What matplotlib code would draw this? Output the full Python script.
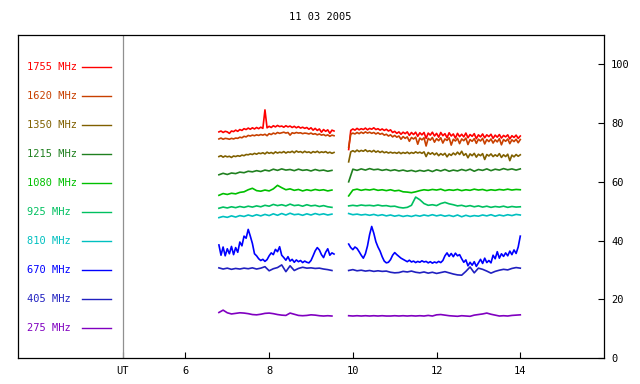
import matplotlib
matplotlib.use('Agg')
import matplotlib.pyplot as plt
import numpy as np

# radio flux records, 11 03 2005
# two observing runs, sampled every 0.05 h (noisy channels) or 0.1 h
run1_start = 6.80
run2_start = 9.90

labels = ['1755 MHz', '1620 MHz', '1350 MHz', '1215 MHz', '1080 MHz',
          '925 MHz', '810 MHz', '670 MHz', '405 MHz', '275 MHz']
colors = ['#ff0000', '#c84000', '#806000', '#208020', '#00c000',
          '#00c060', '#00c0c0', '#0000ff', '#2020c0', '#8000c0']

# ---- fine step (0.05 h) ----
f1755_a = [77.0, 77.3, 76.8, 77.2, 77.0, 76.5, 77.3, 77.1, 77.6, 77.2,
           77.8, 77.5, 78.1, 77.8, 78.3, 77.9, 78.4, 78.0, 78.5, 78.1,
           78.6, 78.2, 84.5, 78.4, 78.9, 78.5, 79.1, 78.7, 79.2, 78.8,
           79.0, 78.6, 79.1, 78.7, 79.0, 78.5, 78.9, 78.4, 78.8, 78.3,
           78.6, 78.2, 78.5, 77.9, 78.4, 77.6, 78.2, 77.5, 78.0, 76.9,
           77.8, 77.2, 77.7, 76.5, 77.6, 77.3]
f1755_b = [71.0, 77.5,
           78.0, 77.6, 78.2, 77.7, 78.1, 77.8, 78.3, 77.7, 78.2, 77.9,
           78.4, 77.8, 78.1, 77.6, 78.0, 77.5, 77.9, 77.3, 77.7, 76.8,
           77.2, 76.5, 77.0, 76.2, 76.9, 76.4, 77.0, 75.8, 76.8, 76.1,
           76.9, 75.5, 76.7, 76.0, 76.8, 74.8, 76.6, 75.9, 76.9, 75.6,
           76.5, 75.2, 76.8, 75.7, 76.4, 75.0, 76.7, 75.6, 76.3, 74.9,
           76.5, 75.4, 76.2, 75.3, 76.6, 75.0, 76.1, 75.5, 76.4, 74.7,
           76.0, 75.3, 76.3, 75.0, 76.0, 75.4, 76.2, 74.8, 75.9, 75.2,
           76.1, 74.9, 75.8, 75.3, 76.0, 74.6, 75.7, 75.1, 75.9, 74.8,
           75.6]

f1620_a = [74.6, 74.9, 74.5, 74.8, 74.7, 74.5, 74.8, 74.6, 74.9, 74.8,
           75.2, 75.0, 75.5, 75.3, 75.8, 75.6, 75.9, 75.7, 76.0, 75.8,
           76.1, 75.9, 76.2, 75.7, 76.4, 76.1, 76.6, 76.3, 76.8, 76.5,
           76.7, 76.9, 76.6, 76.8, 75.9, 76.7, 76.5, 76.8, 76.6, 76.7,
           76.4, 76.6, 76.5, 76.3, 76.6, 76.2, 76.4, 76.0, 76.3, 75.9,
           76.1, 75.7, 76.0, 75.5, 75.9, 75.7]
f1620_b = [71.8, 76.2,
           76.6, 76.3, 76.8, 76.4, 76.9, 76.5, 77.0, 76.6, 76.9, 76.5,
           76.8, 76.3, 76.7, 76.2, 76.5, 75.9, 76.2, 75.6, 76.0, 75.3,
           75.8, 75.2, 75.6, 74.5, 75.4, 74.8, 75.3, 73.8, 75.1, 74.6,
           75.2, 72.8, 74.9, 74.3, 75.0, 72.2, 74.8, 74.2, 75.1, 73.5,
           74.7, 74.0, 75.0, 73.2, 74.6, 74.1, 75.0, 72.5, 74.5, 73.9,
           74.8, 73.0, 74.6, 74.0, 74.9, 72.7, 74.4, 73.8, 74.7, 73.1,
           74.5, 73.9, 74.8, 72.9, 74.4, 73.7, 74.6, 73.2, 74.3, 73.6,
           74.7, 72.6, 74.4, 73.8, 74.6, 73.0, 74.3, 73.7, 74.5, 73.3,
           74.4]

f1350_a = [68.6, 68.9, 68.4, 68.8, 68.5, 68.7, 68.3, 68.8, 68.6, 68.9,
           68.7, 69.1, 68.9, 69.3, 69.2, 69.5, 69.3, 69.7, 69.4, 69.8,
           69.6, 69.9, 69.5, 70.1, 69.7, 70.0, 69.6, 70.2, 69.8, 70.1,
           69.9, 70.3, 69.8, 70.2, 70.0, 70.4, 69.9, 70.5, 70.1, 70.3,
           69.9, 70.4, 70.0, 70.2, 69.8, 70.3, 70.0, 70.4, 69.9, 70.2,
           70.0, 70.3, 69.8, 70.1, 69.7, 70.0]
f1350_b = [66.8, 70.2,
           70.6, 70.2, 70.8, 70.3, 70.7, 70.4, 70.9, 70.3, 70.6, 70.2,
           70.7, 70.1, 70.5, 70.0, 70.4, 69.9, 70.2, 69.8, 70.1, 69.8,
           70.0, 69.7, 70.1, 69.6, 70.0, 69.7, 70.1, 69.6, 70.0, 69.7,
           70.2, 69.8, 70.1, 69.7, 70.2, 68.6, 70.0, 69.4, 69.9, 69.2,
           69.8, 68.9, 69.6, 69.1, 69.7, 68.5, 69.5, 69.0, 69.8, 69.2,
           70.1, 69.3, 70.4, 69.0, 69.6, 68.2, 69.5, 68.9, 69.7, 68.4,
           69.4, 68.9, 69.6, 67.6, 69.3, 68.8, 69.5, 68.6, 69.2, 68.7,
           69.6, 68.3, 69.2, 68.6, 69.4, 67.2, 69.1, 68.5, 69.3, 68.7,
           69.2]

f670_a = [38.5, 35.0, 37.8, 34.8, 37.2, 35.5, 38.0, 35.2, 37.6, 36.0,
          39.5, 38.2, 41.5, 40.8, 43.8, 41.5, 39.0, 35.5, 34.8, 33.8,
          33.2, 33.6, 32.9, 33.5, 34.8, 35.8, 35.2, 37.0, 36.2, 37.9,
          35.0, 34.2, 33.3, 34.5, 33.0, 33.6, 32.6, 33.4, 32.8, 33.2,
          32.5, 33.0, 32.6, 32.4, 33.2, 34.8, 36.5, 37.6, 36.8, 35.2,
          34.2, 36.0, 37.2, 35.0, 35.8, 35.4]
f670_b = [38.8, 37.6,
          36.9, 37.8, 37.3, 36.2, 35.0, 34.0, 35.5, 38.2, 42.0, 44.8,
          42.5, 39.6, 37.8, 36.4, 34.5, 33.0, 32.4, 32.6, 33.5, 35.0,
          35.9, 35.2, 34.6, 34.0, 33.6, 33.2, 32.8, 33.3, 32.7, 33.0,
          32.5, 32.9, 32.6, 33.1, 32.7, 32.9, 32.4, 32.8, 32.3, 32.7,
          32.4, 32.9, 32.5, 33.2, 34.8, 35.8, 34.6, 35.6, 34.5, 35.7,
          34.8, 35.2, 33.8, 32.6, 33.4, 31.4, 32.6, 31.6, 32.8, 31.2,
          32.4, 33.6, 32.2, 34.0, 32.5, 33.2, 32.4, 35.0, 33.8, 36.2,
          34.0, 35.5, 34.6, 35.8, 34.8, 36.4, 35.2, 36.8, 35.6, 37.8,
          41.5]

# ---- coarse step (0.1 h) ----
c1215_a = [62.4, 62.9, 62.5, 63.0, 62.8, 63.3, 63.1, 63.6, 63.4, 63.8,
           63.5, 64.0, 63.7, 64.3, 63.9, 64.4, 64.0, 64.2, 63.8, 64.3,
           63.9, 64.1, 63.7, 64.2, 63.8, 64.0, 63.6, 63.9]
c1215_b = [60.0,
           64.3, 63.9, 64.4, 64.0, 64.5, 64.1, 64.3, 63.9, 64.2, 63.8,
           64.1, 63.7, 64.0, 63.6, 63.9, 63.5, 63.9, 63.6, 64.0, 63.5,
           64.1, 63.7, 64.2, 63.6, 64.0, 63.7, 64.2, 63.8, 64.3, 63.6,
           64.2, 63.9, 64.4, 63.8, 64.3, 64.0, 64.5, 64.1, 64.4, 64.0,
           64.4]

c1080_a = [55.4, 56.0, 55.7, 56.1, 55.9, 56.4, 56.6, 57.3, 57.8, 57.0,
           56.8, 57.2, 56.9, 57.6, 58.8, 58.0, 57.3, 57.6, 57.1, 57.4,
           56.9, 57.3, 57.0, 57.4, 57.1, 57.3, 56.9, 57.2]
c1080_b = [55.2,
           57.2, 57.5, 57.1, 57.4, 57.2, 57.5, 57.1, 57.3, 57.0, 57.3,
           56.9, 57.1, 56.6, 56.5, 56.3, 56.6, 57.0, 57.3, 57.1, 57.4,
           57.2, 57.5, 57.0, 57.3, 57.1, 57.4, 57.0, 57.3, 57.1, 57.5,
           57.2, 57.4, 57.0, 57.3, 57.1, 57.4, 57.2, 57.5, 57.2, 57.4,
           57.3]

c925_a = [51.0, 51.4, 51.1, 51.5, 51.2, 51.6, 51.3, 51.7, 51.4, 51.8,
          51.5, 52.0, 51.7, 52.3, 51.9, 52.2, 51.8, 52.4, 51.9, 52.1,
          51.7, 52.2, 51.8, 52.0, 51.6, 51.9, 51.5, 51.3]
c925_b = [51.8,
          52.0, 51.8, 52.1, 51.9, 52.0, 51.8, 52.1, 51.8, 51.9, 51.6,
          51.7, 51.3, 51.1, 51.3, 52.0, 54.8, 53.9, 52.6, 52.0, 52.2,
          51.9, 52.6, 53.0, 52.5, 52.2, 51.8, 52.0, 51.6, 51.9, 51.5,
          51.8, 51.4, 51.7, 51.3, 51.6, 51.4, 51.7, 51.3, 51.6, 51.4,
          51.5]

c810_a = [47.8, 48.2, 47.9, 48.4, 48.0, 48.5, 48.2, 48.7, 48.3, 48.8,
          48.4, 48.9, 48.5, 49.1, 48.6, 49.2, 48.7, 49.3, 48.8, 49.0,
          48.6, 49.1, 48.7, 49.2, 48.8, 49.1, 48.7, 49.0]
c810_b = [49.2,
          48.8, 49.0, 48.7, 48.9, 48.6, 48.9, 48.5, 48.8, 48.4, 48.7,
          48.3, 48.6, 48.2, 48.5, 48.2, 48.6, 48.3, 48.7, 48.4, 48.8,
          48.4, 48.7, 48.3, 48.6, 48.2, 48.7, 48.1, 48.6, 48.2, 48.5,
          48.3, 48.7, 48.4, 48.8, 48.3, 48.7, 48.4, 48.8, 48.5, 48.9,
          48.7]

c405_a = [30.7, 30.3, 30.6, 30.2, 30.5, 30.3, 30.6, 30.4, 30.7, 30.3,
          30.6, 31.1, 29.7, 30.4, 30.8, 31.7, 29.4, 31.4, 29.8, 30.5,
          30.9, 30.6, 30.7, 30.5, 30.6, 30.3, 30.1, 29.8]
c405_b = [29.8,
          30.1, 29.7, 29.9, 29.6, 29.8, 29.5, 29.7, 29.5, 29.6, 29.2,
          29.0, 29.1, 29.5, 29.3, 29.6, 29.2, 29.0, 29.3, 28.9, 29.2,
          28.8, 29.1, 29.4, 29.0, 28.6, 28.3, 28.2, 29.5, 31.0, 29.0,
          30.6, 30.2, 29.6, 28.9, 29.5, 29.9, 30.2, 30.0, 30.5, 30.8,
          30.6]

c275_a = [15.5, 16.3, 15.4, 15.0, 15.2, 15.4, 15.3, 15.1, 14.8, 14.7,
          14.9, 15.2, 15.3, 15.1, 14.8, 14.6, 14.5, 15.3, 14.9, 14.5,
          14.4, 14.5, 14.7, 14.6, 14.4, 14.3, 14.4, 14.3]
c275_b = [14.4,
          14.3, 14.4, 14.3, 14.4, 14.3, 14.4, 14.3, 14.4, 14.3, 14.3,
          14.4, 14.3, 14.4, 14.3, 14.4, 14.3, 14.4, 14.3, 14.5, 14.3,
          14.7, 14.8, 14.6, 14.4, 14.3, 14.2, 14.4, 14.3, 14.2, 14.6,
          14.8, 15.0, 15.3, 14.9, 14.6, 14.3, 14.4, 14.3, 14.5, 14.6,
          14.7]

series = [(f1755_a, f1755_b, 0.05), (f1620_a, f1620_b, 0.05),
          (f1350_a, f1350_b, 0.05), (c1215_a, c1215_b, 0.1),
          (c1080_a, c1080_b, 0.1), (c925_a, c925_b, 0.1),
          (c810_a, c810_b, 0.1), (f670_a, f670_b, 0.05),
          (c405_a, c405_b, 0.1), (c275_a, c275_b, 0.1)]

plt.rcParams['font.family'] = ['DejaVu Sans Mono']
plt.rcParams['font.size'] = 7.5

fig = plt.figure(figsize=(6.4, 3.84), dpi=100)
ax = fig.add_axes([18 / 640, 26 / 384, 586 / 640, 323 / 384])

for (seg_a, seg_b, step), col in zip(series, colors):
    ta = run1_start + step * np.arange(len(seg_a))
    tb = run2_start + step * np.arange(len(seg_b))
    ax.plot(ta, seg_a, color=col, lw=1.2)
    ax.plot(tb, seg_b, color=col, lw=1.2)

# key on the left
for i, (lab, col) in enumerate(zip(labels, colors)):
    ky = 99.0 - 9.88 * i
    ax.text(2.22, ky, lab, color=col, va='center', ha='left', fontsize=7.5)
    ax.plot([3.54, 4.21], [ky, ky], color=col, lw=1.0)

ax.axvline(4.5, color='#909090', lw=0.9)

ax.set_xlim(2, 16)
ax.set_ylim(0, 110)
ax.set_xticks([4.5, 6, 8, 10, 12, 14])
ax.set_xticklabels(['UT', '6', '8', '10', '12', '14'])
ax.set_yticks([0, 20, 40, 60, 80, 100])
ax.yaxis.tick_right()
ax.tick_params(axis='x', direction='in', length=4, pad=6, width=0.8)
ax.tick_params(axis='y', direction='in', length=4, pad=5, width=0.8)
for sp in ax.spines.values():
    sp.set_linewidth(0.9)

fig.text(0.5, 1 - 17 / 384, '11 03 2005', ha='center', va='center', fontsize=7.5)

fig.savefig('out.png', dpi=100)
